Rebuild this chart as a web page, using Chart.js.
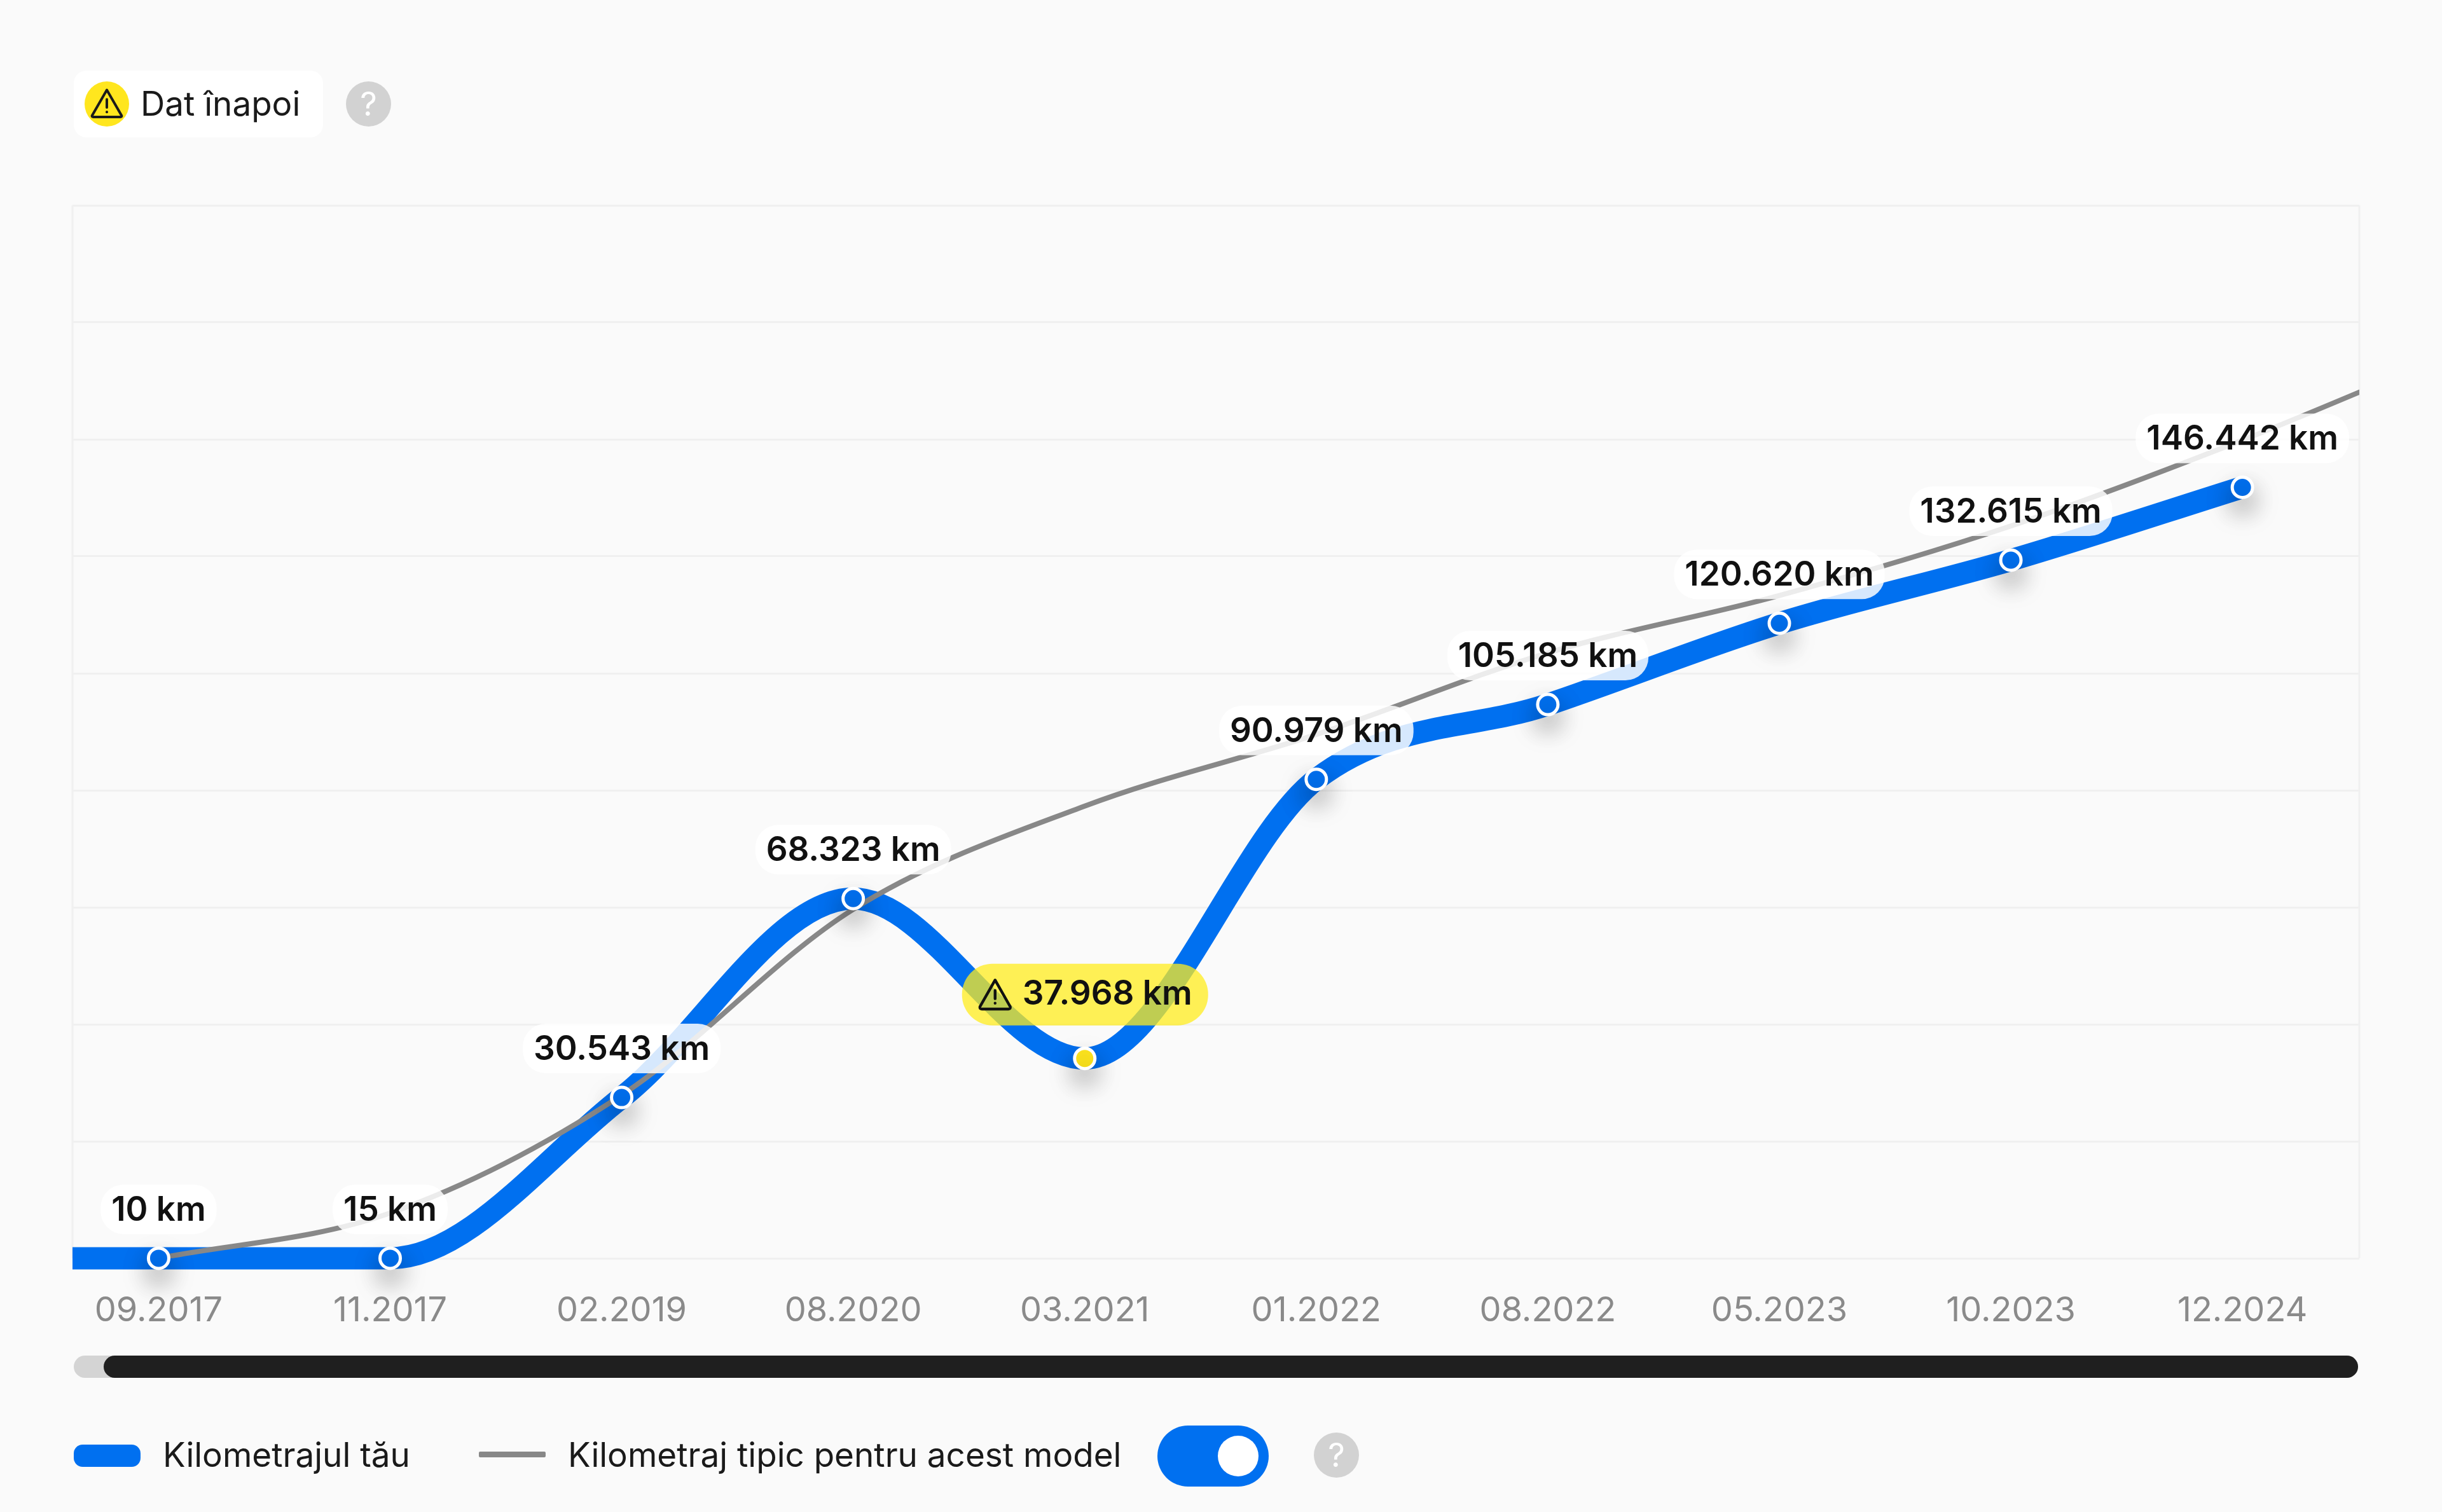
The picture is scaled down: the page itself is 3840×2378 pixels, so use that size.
<!DOCTYPE html>
<html lang="ro">
<head>
<meta charset="utf-8">
<title>Kilometraj</title>
<script src="https://cdn.jsdelivr.net/npm/chart.js@4"></script>
<style>
    html, body { margin: 0; padding: 0; background: #fafafa; }
    body { width: 3840px; height: 2378px; position: relative; overflow: hidden; font-family: Inter, sans-serif; color: #1a1a1a; font-size: 53px; }
    canvas { position: absolute; left: 0; top: 0; }
    .abs { position: absolute; }
    .txt { position: absolute; white-space: nowrap; line-height: 70px; }
    .help { position: absolute; width: 71px; height: 71px; border-radius: 50%; background: #d2d2d2; color: #fff; text-align: center; line-height: 71px; font-size: 52px; font-weight: 400; }
</style>
</head>
<body>
<canvas id="chart" width="3840" height="2378"></canvas>

<div class="abs" style="left:116px;top:111px;width:392px;height:105px;background:#fff;border-radius:20px"></div>
<div class="abs" style="left:133px;top:128px;width:70px;height:71px;background:#ffe61e;border-radius:50%"></div>
<svg class="abs" style="left:140px;top:134px" width="56" height="56" viewBox="0 0 24 24" fill="none" stroke="#1a1a1a" stroke-width="1.7" stroke-linejoin="round" stroke-linecap="round">
    <path d="M12 3.2 L22 20.6 Q22.2 21.4 21.2 21.4 H2.8 Q1.8 21.4 2 20.6 Z"/><path d="M12 9.5 V15"/><path d="M12 18 V18.1"/>
</svg>
<div class="txt" style="left:221px;top:128px">Dat înapoi</div>
<div class="help" style="left:544px;top:128px">?</div>

<div class="abs" style="left:116px;top:2132px;width:3592px;height:35px;background:#d4d4d4;border-radius:18px"></div>
<div class="abs" style="left:163px;top:2132px;width:3545px;height:35px;background:#1f1f1f;border-radius:18px"></div>

<div class="abs" style="left:116px;top:2272px;width:105px;height:35px;background:#0070f0;border-radius:14px"></div>
<div class="txt" style="left:256px;top:2253px">Kilometrajul tău</div>
<div class="abs" style="left:753px;top:2283px;width:105px;height:9px;background:#888;border-radius:2px"></div>
<div class="txt" style="left:893px;top:2253px">Kilometraj tipic pentru acest model</div>
<div class="abs" style="left:1820px;top:2242px;width:175px;height:96px;background:#0070f0;border-radius:48px"></div>
<div class="abs" style="left:1915px;top:2258px;width:64px;height:64px;background:#fff;border-radius:50%"></div>
<div class="help" style="left:2066px;top:2253px">?</div>

<script>
const dates = ['09.2017', '11.2017', '02.2019', '08.2020', '03.2021', '01.2022', '08.2022', '05.2023', '10.2023', '12.2024'];
const yourKm = [10, 15, 30543, 68323, 37968, 90979, 105185, 120620, 132615, 146442];
// typical line runs on past the last date, the plot cuts it off at the right edge
const typicalKm = [10, 8600, 31000, 66300, 85900, 99500, 115000, 125900, 139100, 155400, 173700];
const yTop = 200000;
const gridCount = 10;
const warningIndex = 4; // 03.2021, odometer went back

const BLUE = '#0070f0';
const GREY = '#888888';

const points = arr => arr.map((v, i) => ({x: i, y: v}));
const formatKm = v => String(v).replace(/\B(?=(\d{3})+$)/g, '.') + ' km';

function roundedPill(ctx, x, y, w, h, r, fill) {
    ctx.beginPath();
    ctx.roundRect(x, y, w, h, r);
    ctx.fillStyle = fill;
    ctx.fill();
}

function warningIcon(ctx, x, y, size) {
    const path = new Path2D('M12 2.5 L22.2 20.4 Q22.6 22 21 22 H3 Q1.4 22 1.8 20.4 Z M12 9.5 V15 M12 18 V18.1');
    ctx.save();
    ctx.translate(x, y);
    ctx.scale(size / 24, size / 24);
    ctx.strokeStyle = '#111';
    ctx.lineWidth = 1.9;
    ctx.lineJoin = 'round';
    ctx.lineCap = 'round';
    ctx.stroke(path);
    ctx.restore();
}

const framePlugin = {
    id: 'frame',
    beforeDatasetsDraw(chart) {
        const {ctx, chartArea: a} = chart;
        ctx.save();
        ctx.strokeStyle = '#f0f0f0';
        ctx.lineWidth = 3;
        ctx.beginPath();
        ctx.moveTo(a.left, a.top);
        ctx.lineTo(a.left, a.bottom);
        ctx.moveTo(a.right, a.top);
        ctx.lineTo(a.right, a.bottom);
        ctx.stroke();
        ctx.restore();
    }
};

// soft shadow under the markers only
const markerShadowPlugin = {
    id: 'markerShadow',
    beforeDatasetDraw(chart, args) {
        if (args.index !== 0) return;
        const ctx = chart.ctx;
        ctx.save();
        ctx.shadowColor = 'rgba(0,0,0,0.38)';
        ctx.shadowBlur = 40;
        ctx.shadowOffsetY = 20;
    },
    afterDatasetDraw(chart, args) {
        if (args.index === 0) chart.ctx.restore();
    }
};

const valueLabelsPlugin = {
    id: 'valueLabels',
    afterDatasetsDraw(chart) {
        const {ctx, scales: {x, y}} = chart;
        ctx.save();
        ctx.font = '600 53px Inter';
        ctx.textAlign = 'left';
        ctx.textBaseline = 'middle';
        yourKm.forEach((v, i) => {
            const text = formatKm(v);
            const px = x.getPixelForValue(i);
            const py = y.getPixelForValue(v);
            const w = ctx.measureText(text).width;
            if (i === warningIndex) {
                const icon = 56;
                const total = icon + 15 + w;
                const cy = py - 101;
                roundedPill(ctx, px - 193, cy - 48, 387, 97, 48, 'rgba(255,236,30,0.75)');
                warningIcon(ctx, px - total / 2, cy - 28, icon);
                ctx.fillStyle = '#111';
                ctx.fillText(text, px - total / 2 + icon + 15, cy);
            } else {
                const cy = py - 77;
                roundedPill(ctx, px - w / 2 - 17, cy - 39, w + 34, 78, 36, 'rgba(255,255,255,0.84)');
                ctx.fillStyle = '#111';
                ctx.fillText(text, px - w / 2, cy + 2);
            }
        });
        ctx.restore();
    }
};

new Chart(document.getElementById('chart'), {
    type: 'line',
    data: {
        datasets: [
            {
                label: 'markers',
                data: points(yourKm),
                showLine: false,
                clip: false,
                pointRadius: 16,
                pointBorderWidth: 5,
                pointBorderColor: '#fff',
                pointBackgroundColor: yourKm.map((v, i) => i === warningIndex ? '#ffe61e' : BLUE),
                order: 0
            },
            {
                label: 'Kilometraj tipic pentru acest model',
                data: points(typicalKm),
                borderColor: GREY,
                borderWidth: 8,
                pointRadius: 0,
                cubicInterpolationMode: 'monotone',
                clip: 0,
                order: 1
            },
            {
                label: 'Kilometrajul tău',
                // flat lead-in from the left edge of the plot
                data: [{x: -1, y: yourKm[0]}].concat(points(yourKm)),
                borderColor: BLUE,
                borderWidth: 35,
                pointRadius: 0,
                cubicInterpolationMode: 'monotone',
                clip: {left: 0, right: 0, top: 0, bottom: 20},
                order: 2
            }
        ]
    },
    options: {
        responsive: false,
        animation: false,
        events: [],
        layout: {padding: {left: 114, right: 130, top: 323, bottom: 289}},
        plugins: {legend: {display: false}, tooltip: {enabled: false}},
        scales: {
            x: {
                type: 'linear',
                min: -0.372,
                max: 9.505,
                afterFit: s => { s.height = 110; },
                grid: {display: false},
                border: {display: false},
                ticks: {
                    stepSize: 1,
                    includeBounds: false,
                    autoSkip: false,
                    maxRotation: 0,
                    padding: 42,
                    color: '#8a8a8a',
                    font: {family: 'Inter', size: 54, weight: 400},
                    callback: v => dates[v]
                }
            },
            y: {
                min: 0,
                max: yTop,
                afterFit: s => { s.width = 0; },
                border: {display: false},
                grid: {color: '#f0f0f0', lineWidth: 3, drawTicks: false},
                ticks: {display: false, count: gridCount}
            }
        }
    },
    plugins: [framePlugin, markerShadowPlugin, valueLabelsPlugin]
});
</script>
</body>
</html>
